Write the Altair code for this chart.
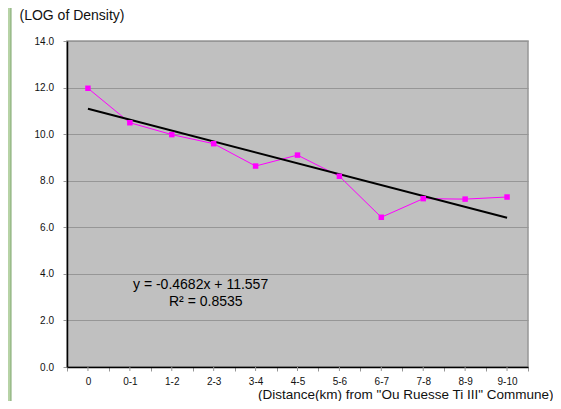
import altair as alt
import pandas as pd

categories = ["0", "0-1", "1-2", "2-3", "3-4", "4-5", "5-6", "6-7", "7-8", "8-9", "9-10"]
log_density = [11.97, 10.49, 9.98, 9.59, 8.63, 9.10, 8.19, 6.43, 7.23, 7.21, 7.30]
trend_categories = ["0", "9-10"]
trend_values = [11.09, 6.41]
y_ticks = [0, 2, 4, 6, 8, 10, 12, 14]
equation = "y = -0.4682x + 11.557"
r_squared = "R² = 0.8535"

W, H = 461, 326
FONT = "Liberation Sans"
GRID = "#969696"

df = pd.DataFrame({"distance": categories, "value": log_density})
trend_df = pd.DataFrame({"distance": trend_categories, "value": trend_values})

x_enc = alt.X(
    "distance:N",
    sort=categories,
    scale=alt.Scale(type="band", paddingInner=0, paddingOuter=0),
    axis=alt.Axis(
        title='(Distance(km) from "Ou Ruesse Ti III" Commune)',
        titleFont=FONT, titleFontSize=13.5, titleFontWeight="normal", titleColor="#111",
        titleAlign="right", titleX=486, titleY=31.5, titleBaseline="alphabetic",
        labelFont=FONT, labelFontSize=10, labelColor="#111", labelAngle=0,
        labelPadding=5.5, tickBand="extent", tickSize=4, tickColor=GRID,
        domainColor="#000", domainWidth=1.5, grid=False,
    ),
)
y_enc = alt.Y(
    "value:Q",
    scale=alt.Scale(domain=[0, 14], nice=False, zero=True),
    axis=alt.Axis(
        values=y_ticks, format=".1f",
        title="(LOG of Density)",
        titleFont=FONT, titleFontSize=14, titleFontWeight="normal", titleColor="#111",
        titleAngle=0, titleAlign="left", titleX=-48, titleY=-21.5, titleBaseline="alphabetic",
        labelFont=FONT, labelFontSize=10, labelColor="#111", labelPadding=9.5,
        tickSize=4, tickColor=GRID, grid=True, gridColor=GRID, gridWidth=1,
        domainColor="#000", domainWidth=1.5,
    ),
)

line = alt.Chart(df).mark_line(color="#FF00FF", strokeWidth=1).encode(x=x_enc, y=y_enc)
pts = alt.Chart(df).mark_point(shape="square", filled=True, size=30, color="#FF00FF", opacity=1).encode(
    x=alt.X("distance:N", sort=categories), y="value:Q")
trend = alt.Chart(trend_df).mark_line(color="#000", strokeWidth=2).encode(
    x=alt.X("distance:N", sort=categories), y="value:Q")
center_ticks = alt.Chart(df).mark_rule(color=GRID, strokeWidth=1).encode(
    x=alt.X("distance:N", sort=categories), y=alt.value(H), y2=alt.value(H + 4))

eq_text = alt.Chart(pd.DataFrame({"t": [equation]})).mark_text(
    font=FONT, fontSize=14, align="left", baseline="alphabetic", color="#000"
).encode(text="t:N", x=alt.value(66), y=alt.value(248))
r2_text = alt.Chart(pd.DataFrame({"t": [r_squared]})).mark_text(
    font=FONT, fontSize=14, align="left", baseline="alphabetic", color="#000"
).encode(text="t:N", x=alt.value(102), y=alt.value(265))

strip = alt.Chart(pd.DataFrame({"t": ["bg"]})).mark_rect(color="#b7d3a6").encode(
    x=alt.value(-59), x2=alt.value(-56), y=alt.value(-33), y2=alt.value(H + 34))
strip_edge = alt.Chart(pd.DataFrame({"t": ["bg"]})).mark_rule(color="#7fa66f", strokeWidth=1).encode(
    x=alt.value(-56), y=alt.value(-33), y2=alt.value(H + 34))

chart = alt.layer(line, trend, pts, center_ticks, eq_text, r2_text, strip, strip_edge).properties(
    width=W, height=H,
    background="#FFFFFF",
    autosize=alt.AutoSizeParams(type="none"),
    padding={"left": 59, "top": 33, "right": 25, "bottom": 34},
).configure_view(fill="#C0C0C0", stroke=GRID, strokeWidth=1.5)

chart.save("out.html", embed_options={"renderer": "svg", "actions": False})
